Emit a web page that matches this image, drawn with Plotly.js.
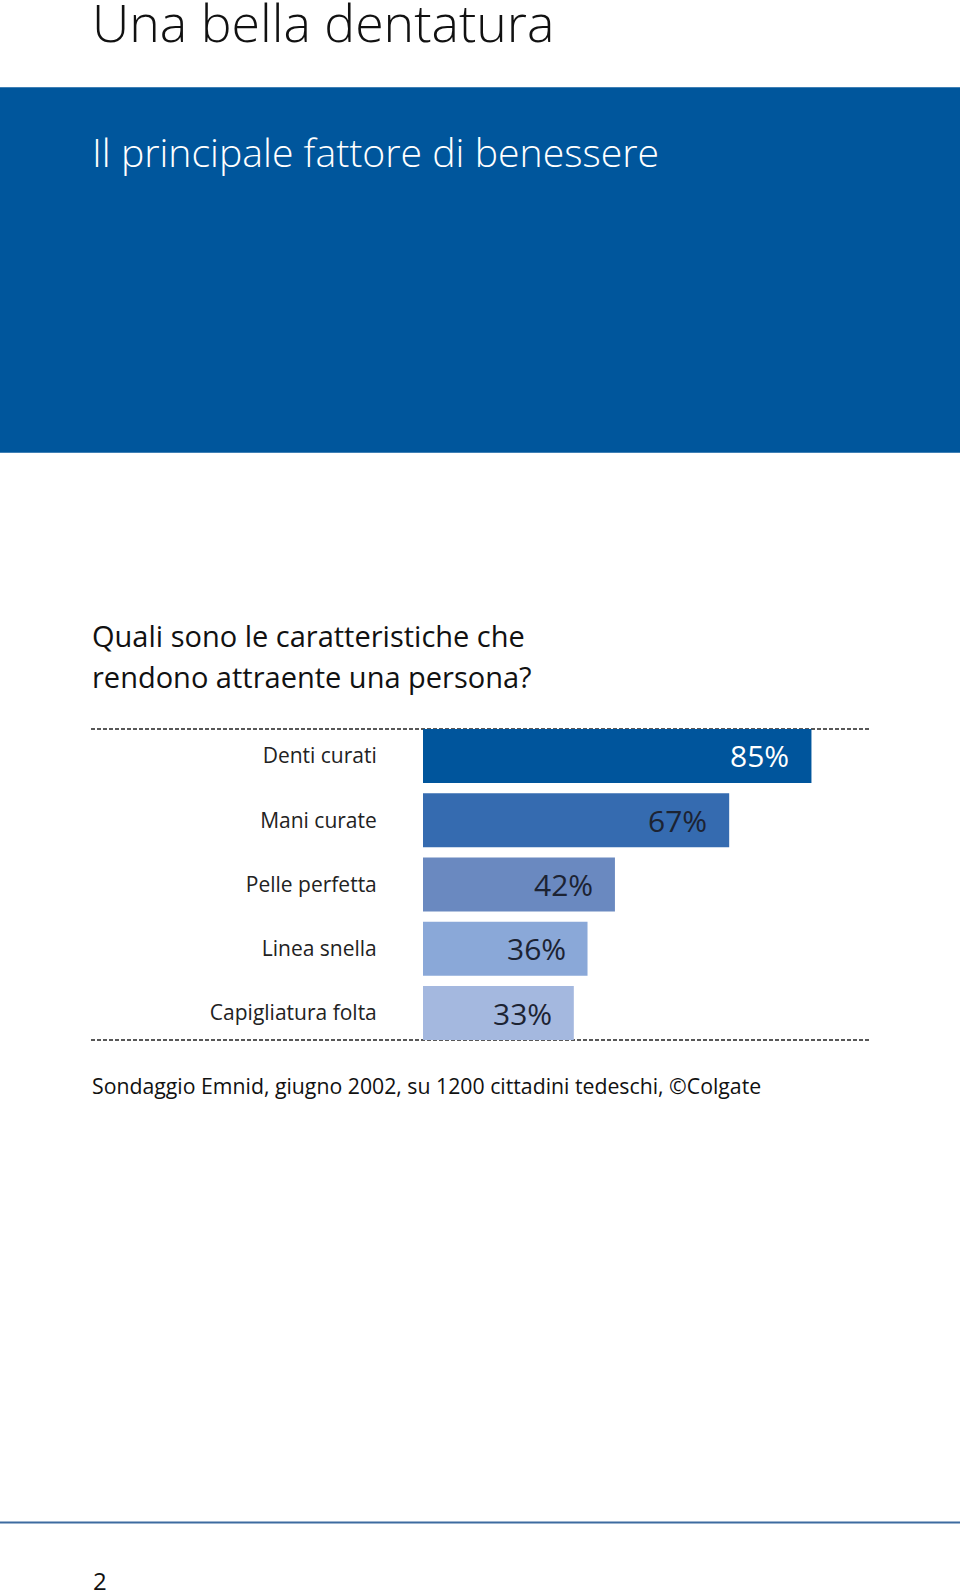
<!DOCTYPE html>
<html>
<head>
<meta charset="utf-8">
<script src="https://cdn.plot.ly/plotly-3.0.1.min.js"></script>
<style>
  html, body { margin: 0; padding: 0; background: #ffffff; }
  #chart { width: 960px; height: 1592px; }
</style>
</head>
<body>
<div id="chart"></div>
<script>
// ---- Data ----
const categories = ["Denti curati", "Mani curate", "Pelle perfetta", "Linea snella", "Capigliatura folta"];
const values = [85, 67, 42, 36, 33];
const valueLabels = ["85%", "67%", "42%", "36%", "33%"];
const barColors = ["#00559c", "#356bb0", "#6a89c0", "#8aa8d8", "#a4b8df"];
const labelColors = ["#ffffff", "#1c2333", "#1c2333", "#1c2333", "#1c2333"];

const pageTitle = "Una bella dentatura";
const bannerTitle = "Il principale fattore di benessere";
const questionLines = ["Quali sono le caratteristiche che", "rendono attraente una persona?"];
const sourceNote = "Sondaggio Emnid, giugno 2002, su 1200 cittadini tedeschi, ©Colgate";
const pageNumber = "2";

// ---- Layout geometry (pixels) ----
const W = 960, H = 1592;
const L = 423, R = 80, T = 728.6, B = H - 1040;
const PW = W - L - R, PH = H - T - B;
const px = x => (x - L) / PW;
const py = y => (H - B - y) / PH;

const FONT = "'Open Sans', 'Noto Sans', sans-serif";

const trace = {
  type: "bar",
  orientation: "h",
  y: categories,
  x: values,
  marker: { color: barColors, line: { width: 0 } },
  hoverinfo: "skip",
  showlegend: false
};

const annotations = [];
// value labels, placed via the data scales
values.forEach((v, i) => {
  annotations.push({
    xref: "x", yref: "y", x: v, y: categories[i],
    text: valueLabels[i], showarrow: false,
    xanchor: "right", yanchor: "middle", xshift: -20, yshift: 0,
    font: { family: FONT, size: 30, color: labelColors[i] }
  });
});
// page texts
annotations.push({
  xref: "paper", yref: "paper", x: px(90), y: py(21), xanchor: "left", yanchor: "middle",
  text: pageTitle, showarrow: false, font: { family: FONT, size: 51.8, color: "#111111", weight: 300 }
});
annotations.push({
  xref: "paper", yref: "paper", x: px(90), y: py(150), xanchor: "left", yanchor: "middle",
  text: bannerTitle, showarrow: false, font: { family: FONT, size: 39.2, color: "#ffffff", weight: 300 }
});
annotations.push({
  xref: "paper", yref: "paper", x: px(90), y: py(635), xanchor: "left", yanchor: "middle",
  text: questionLines[0], showarrow: false, font: { family: FONT, size: 29, color: "#111111" }
});
annotations.push({
  xref: "paper", yref: "paper", x: px(90), y: py(676), xanchor: "left", yanchor: "middle",
  text: questionLines[1], showarrow: false, font: { family: FONT, size: 29, color: "#111111" }
});
annotations.push({
  xref: "paper", yref: "paper", x: px(90), y: py(1086), xanchor: "left", yanchor: "middle",
  text: sourceNote, showarrow: false, font: { family: FONT, size: 21.25, color: "#111111" }
});
annotations.push({
  xref: "paper", yref: "paper", x: px(91), y: py(1581), xanchor: "left", yanchor: "middle",
  text: pageNumber, showarrow: false, font: { family: FONT, size: 24, color: "#111111" }
});

const shapes = [
  // blue banner
  { type: "rect", xref: "paper", yref: "paper", x0: px(0), x1: px(W), y0: py(86), y1: py(452),
    fillcolor: "#00569c", line: { width: 0 }, layer: "below" },
  // dashed top and bottom rules
  { type: "line", xref: "paper", yref: "paper", x0: px(91), x1: px(869), y0: 1, y1: 1,
    line: { color: "#222222", width: 1.3, dash: "4px,2px" }, layer: "below" },
  { type: "line", xref: "paper", yref: "paper", x0: px(91), x1: px(869), y0: 0, y1: 0,
    line: { color: "#222222", width: 1.3, dash: "4px,2px" }, layer: "below" },
  // bottom page rule
  { type: "line", xref: "paper", yref: "paper", x0: px(0), x1: px(W), y0: py(1523), y1: py(1523),
    line: { color: "#3d6ba0", width: 2 } }
];

const layout = {
  width: W, height: H,
  margin: { l: L, r: R, t: T, b: B, pad: 0 },
  paper_bgcolor: "#ffffff", plot_bgcolor: "rgba(0,0,0,0)",
  bargap: 0.16,
  showlegend: false,
  xaxis: { range: [0, 100], visible: false, fixedrange: true },
  yaxis: {
    type: "category", range: [4.42, -0.42], showgrid: false, zeroline: false, showline: false,
    ticks: "outside", ticklen: 41, tickcolor: "rgba(0,0,0,0)",
    tickfont: { family: FONT, size: 21, color: "#222222" }, fixedrange: true
  },
  annotations: annotations,
  shapes: shapes
};

Plotly.newPlot("chart", [trace], layout, { staticPlot: true, displayModeBar: false });
</script>
</body>
</html>
